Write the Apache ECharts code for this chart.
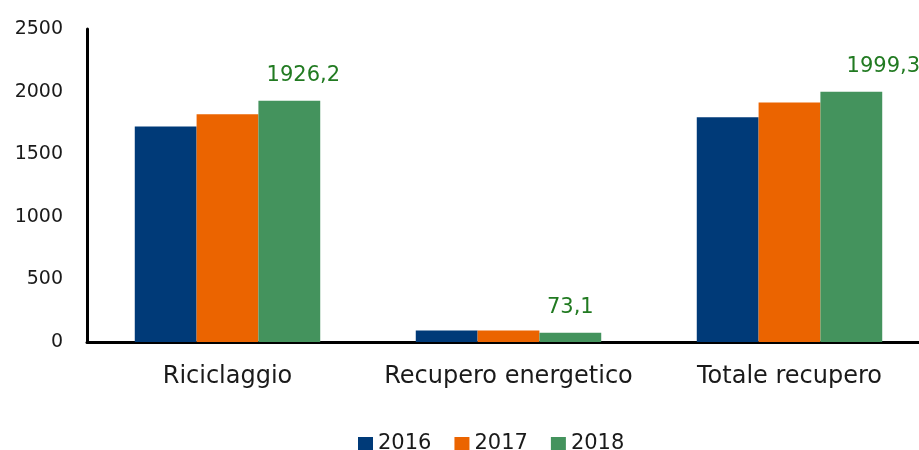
<!DOCTYPE html>
<html>
<head>
<meta charset="utf-8">
<script src="https://cdn.jsdelivr.net/npm/echarts@6/dist/echarts.min.js"></script>
<style>
  html, body { margin: 0; padding: 0; background: #fff; }
  #chart { width: 919px; height: 450px; }
</style>
</head>
<body>
<div id="chart"></div>
<script>
// dati
var categories = ['Riciclaggio', 'Recupero energetico', 'Totale recupero'];
var years = ['2016', '2017', '2018'];
var values2016 = [1722, 92, 1795];
var values2017 = [1820, 92, 1913];
var values2018 = [1926.2, 73.1, 1999.3];
var yTicks = [0, 500, 1000, 1500, 2000, 2500];

var colors = ['#003a78', '#eb6400', '#44935d'];
var labelShift = [14, 0, 32]; // etichette spostate a mano come nell'originale
var font = 'DejaVu Sans';

function virgola(v) {
    return v.toFixed(1).replace('.', ',');
}

var chart = echarts.init(document.getElementById('chart'));

var serie = [values2016, values2017, values2018].map(function (vals, i) {
    var s = {
        name: years[i],
        type: 'bar',
        barGap: '0%',
        barCategoryGap: '34%',
        itemStyle: { color: colors[i] },
        data: vals.slice()
    };
    if (i === 2) {
        s.data = vals.map(function (v, k) {
            return {
                value: v,
                label: { offset: [labelShift[k], 0] }
            };
        });
        s.label = {
            show: true,
            position: 'top',
            distance: 15,
            color: '#217a21',
            fontFamily: font,
            fontSize: 21,
            formatter: function (p) { return virgola(p.value); }
        };
    }
    return s;
});

var option = {
    animation: false,
    color: colors,
    // il grafico originale è tagliato a destra
    grid: { left: 87, width: 843, top: 29, bottom: 108, outerBoundsMode: 'none' },
    legend: {
        data: years,
        left: 353,
        top: 428,
        itemWidth: 15,
        itemHeight: 13,
        itemGap: 23,
        icon: 'rect',
        textStyle: { fontFamily: font, fontSize: 21, color: '#1a1a1a' }
    },
    xAxis: {
        type: 'category',
        data: categories,
        axisLine: { lineStyle: { color: '#000', width: 3 } },
        axisTick: { show: false },
        axisLabel: { interval: 0, fontFamily: font, fontSize: 24, color: '#1a1a1a', margin: 23 }
    },
    yAxis: {
        type: 'value',
        min: yTicks[0],
        max: yTicks[yTicks.length - 1],
        interval: 500,
        axisLine: { show: true, lineStyle: { color: '#000', width: 3 } },
        axisTick: { show: false },
        splitLine: { show: false },
        axisLabel: {
            fontFamily: font, fontSize: 19, color: '#1a1a1a', margin: 24,
            formatter: function (v) { return String(v); }
        }
    },
    series: serie
};

chart.setOption(option);
</script>
</body>
</html>
